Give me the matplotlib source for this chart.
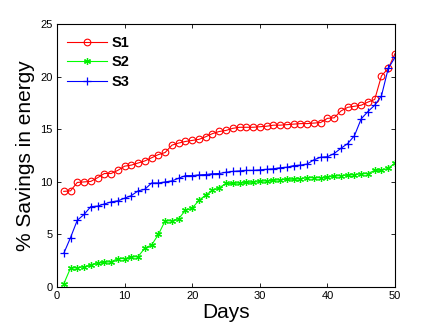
import matplotlib
matplotlib.use("Agg")
import matplotlib.pyplot as plt
import numpy as np

plt.rcParams['font.family'] = ['Liberation Sans', 'DejaVu Sans']

days = list(range(1, 51))
s1 = [9.1, 9.15, 9.95, 10.0, 10.05, 10.4, 10.8, 10.8, 11.1, 11.5,
      11.6, 11.8, 12.0, 12.3, 12.6, 12.8, 13.5, 13.7, 13.85, 13.95,
      14.05, 14.3, 14.6, 14.8, 14.9, 15.1, 15.2, 15.2, 15.2, 15.25,
      15.3, 15.4, 15.4, 15.45, 15.5, 15.55, 15.55, 15.6, 15.65, 16.05,
      16.1, 16.75, 17.1, 17.2, 17.3, 17.6, 17.85, 20.1, 20.8, 22.2]
s2 = [0.3, 1.8, 1.85, 1.9, 2.1, 2.3, 2.35, 2.4, 2.7, 2.7,
      2.85, 2.9, 3.7, 4.0, 5.0, 6.3, 6.3, 6.5, 7.3, 7.5,
      8.25, 8.75, 9.2, 9.45, 9.85, 9.85, 9.9, 9.95, 9.97, 10.05,
      10.1, 10.15, 10.2, 10.25, 10.25, 10.3, 10.4, 10.4, 10.4, 10.45,
      10.55, 10.6, 10.63, 10.7, 10.76, 10.8, 11.1, 11.1, 11.3, 11.8]
s3 = [3.2, 4.7, 6.35, 6.9, 7.65, 7.7, 7.9, 8.1, 8.2, 8.45,
      8.7, 9.15, 9.3, 9.9, 9.9, 10.0, 10.1, 10.35, 10.6, 10.6,
      10.67, 10.7, 10.78, 10.8, 10.92, 11.0, 11.05, 11.1, 11.1, 11.15,
      11.2, 11.25, 11.35, 11.4, 11.55, 11.6, 11.7, 12.1, 12.35, 12.4,
      12.7, 13.2, 13.65, 14.4, 16.0, 16.7, 17.3, 18.2, 20.8, 21.85]
labels = ['S1', 'S2', 'S3']
xticks = [0, 10, 20, 30, 40, 50]
yticks = [0, 5, 10, 15, 20, 25]

fig = plt.figure(figsize=(4.36, 3.28), dpi=100)
ax = fig.add_axes([57/436, 1-287/328, (395-57)/436, (287-24.3)/328])

ax.plot(days, s1, color='#ff0000', lw=0.8, marker='o', ms=4.8,
        mfc='none', mec='#ff0000', mew=0.8, label=labels[0])
ax.plot(days, s2, color='#00ff00', lw=0.8, marker=(6, 2, 0), ms=5,
        mec='#00ee00', mew=0.9, label=labels[1])
ax.plot(days, s3, color='#0000ff', lw=0.8, marker='+', ms=6,
        mec='#0000ff', mew=0.9, label=labels[2])

ax.set_xlim(0, 50)
ax.set_ylim(0, 25)
ax.set_xticks(xticks)
ax.set_yticks(yticks)
ax.tick_params(direction='in', top=True, right=True, labelsize=8, length=3, width=0.6, pad=3)
for sp in ax.spines.values():
    sp.set_linewidth(0.8)
ax.set_xlabel('Days', fontsize=15, labelpad=1)
ax.set_ylabel('% Savings in energy', fontsize=15, labelpad=4)

leg = ax.legend(loc='upper left', frameon=False, prop={'weight': 'bold', 'size': 10.5},
                handlelength=2.7, handletextpad=0.35, labelspacing=0.38,
                bbox_to_anchor=(0.0, 0.995), borderaxespad=0.3)

fig.savefig('out.png', dpi=100)
